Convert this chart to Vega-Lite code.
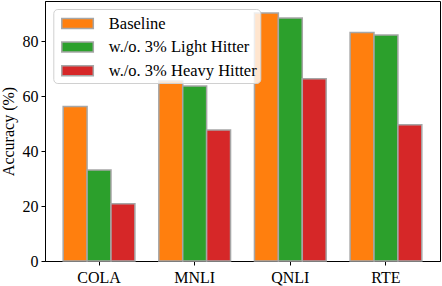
{
  "$schema": "https://vega.github.io/schema/vega-lite/v6.json",
  "width": 395,
  "height": 260,
  "autosize": {"type": "none"},
  "padding": {"left": 45, "top": 1, "right": 2, "bottom": 25},
  "config": {
    "font": "Liberation Serif",
    "view": {"stroke": "black", "strokeWidth": 1},
    "axis": {"labelFont": "Liberation Serif", "titleFont": "Liberation Serif", "labelFontSize": 16, "titleFontSize": 16, "labelColor": "black", "titleColor": "black", "domainColor": "black", "tickColor": "black", "tickSize": 4, "grid": false, "titleFontWeight": "normal"}
  },
  "data": {
    "values": [
      {"task": "COLA", "method": "Baseline", "acc": 56.2},
      {"task": "COLA", "method": "w./o. 3% Light Hitter", "acc": 33.1},
      {"task": "COLA", "method": "w./o. 3% Heavy Hitter", "acc": 20.8},
      {"task": "MNLI", "method": "Baseline", "acc": 65.5},
      {"task": "MNLI", "method": "w./o. 3% Light Hitter", "acc": 63.7},
      {"task": "MNLI", "method": "w./o. 3% Heavy Hitter", "acc": 47.7},
      {"task": "QNLI", "method": "Baseline", "acc": 90.2},
      {"task": "QNLI", "method": "w./o. 3% Light Hitter", "acc": 88.4},
      {"task": "QNLI", "method": "w./o. 3% Heavy Hitter", "acc": 66.3},
      {"task": "RTE", "method": "Baseline", "acc": 83.1},
      {"task": "RTE", "method": "w./o. 3% Light Hitter", "acc": 82.2},
      {"task": "RTE", "method": "w./o. 3% Heavy Hitter", "acc": 49.6}
    ]
  },
  "mark": {"type": "bar", "stroke": "#a6a6a6", "strokeWidth": 1.5},
  "encoding": {
    "x": {"field": "task", "type": "nominal", "sort": ["COLA", "MNLI", "QNLI", "RTE"],
      "scale": {"paddingInner": 0.25, "paddingOuter": 0.19},
      "axis": {"title": null, "labelAngle": 0, "labelPadding": 4}},
    "xOffset": {"field": "method", "type": "nominal", "sort": ["Baseline", "w./o. 3% Light Hitter", "w./o. 3% Heavy Hitter"], "scale": {"paddingInner": 0, "paddingOuter": 0}},
    "y": {"field": "acc", "type": "quantitative", "scale": {"domain": [0, 94.6], "nice": false},
      "axis": {"title": "Accuracy (%)", "values": [0, 20, 40, 60, 80], "labelPadding": 3, "titlePadding": 6}},
    "color": {"field": "method", "type": "nominal",
      "scale": {"domain": ["Baseline", "w./o. 3% Light Hitter", "w./o. 3% Heavy Hitter"], "range": ["#ff7f0e", "#2ca02c", "#d62728"]},
      "legend": {"title": null, "orient": "none", "legendX": 8.3, "legendY": 8,
        "symbolType": "M-0.6,-0.5H2.55V0.5H-0.6Z", "symbolSize": 400, "symbolStrokeColor": "#a6a6a6", "symbolStrokeWidth": 1.5, "symbolOpacity": 1,
        "labelFont": "Liberation Serif", "labelFontSize": 16.5, "labelColor": "black", "labelOffset": 30, "rowPadding": 3.6,
        "padding": 3.5, "fillColor": "rgba(255,255,255,0.8)", "strokeColor": "#d0d0d0", "cornerRadius": 4}}
  }
}
